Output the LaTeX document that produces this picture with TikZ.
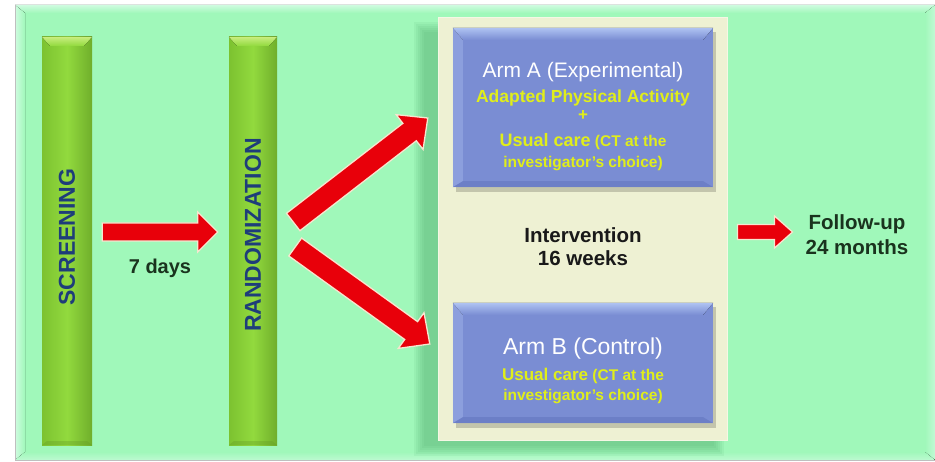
\documentclass[tikz,border=0pt]{standalone}
\usepackage{fontspec}
\setmainfont{Liberation Sans}
\usetikzlibrary{calc}
\definecolor{mint}{HTML}{A0F8BA}
\definecolor{mintlight}{HTML}{CFFBE0}
\definecolor{barmid}{HTML}{92DA3E}
\definecolor{bardark}{HTML}{7CC230}
\definecolor{barlight}{HTML}{C8EE80}
\definecolor{bartext}{HTML}{1E3D7A}
\definecolor{cream}{HTML}{EEF1D3}
\definecolor{armblue}{HTML}{7A8DD3}
\definecolor{armlight}{HTML}{AFC3F2}
\definecolor{armdark}{HTML}{6376C0}
\definecolor{yel}{HTML}{E0EE1A}
\definecolor{arrred}{HTML}{E8000A}
\definecolor{arredge}{HTML}{F6E6CF}
\definecolor{darktxt}{HTML}{1A331E}
\definecolor{shadowgreen}{HTML}{3E9A5C}
\newcommand\blockarrow[5]{%
  \coordinate (bat) at #1;
  \coordinate (bap) at #2;
  \coordinate (bah) at ($(bap)!#5!(bat)$);
  \filldraw[blockarr] ($(bat)!#3!90:(bap)$) -- ($(bah)!#3!90:(bap)$) -- ($(bah)!#4!90:(bap)$) -- (bap)
     -- ($(bah)!#4!-90:(bap)$) -- ($(bah)!#3!-90:(bap)$) -- ($(bat)!#3!-90:(bap)$) -- cycle;}
\begin{document}
\begin{tikzpicture}[x=1pt,y=-1pt,
  bar/.style={rectangle, inner sep=0pt, minimum height=408pt, left color=bardark, right color=bardark!90!black, middle color=barmid},
  bartxt/.style={rotate=90, text=bartext, font=\bfseries\fontsize{23}{23}\selectfont},
  creambox/.style={rectangle, inner sep=0pt, fill=cream, draw=cream!60!white, line width=1pt, minimum width=289pt, minimum height=422pt},
  armbox/.style={rectangle, inner sep=0pt, fill=armblue, minimum width=260pt},
  armtxt/.style={align=center, text=yel, font=\bfseries\fontsize{15.5}{18}\selectfont},
  plaintxt/.style={align=center, text=darktxt, font=\bfseries\fontsize{20.5}{25}\selectfont},
  blockarr/.style={fill=arrred, draw=arredge, line width=1.3pt, line join=miter}]
\useasboundingbox (0,0) rectangle (935,462);
\fill[white] (0,0) rectangle (935,462);
% panel
\fill[mint] (15,5) rectangle (935,460);
\fill[top color=mintlight, bottom color=mint] (15,5) -- (935,5) -- (925,13) -- (25,13) -- cycle;
\fill[left color=mintlight, right color=mint] (15,5) -- (25,13) -- (25,452) -- (15,460) -- cycle;
\fill[left color=mint, right color=mintlight!70!mint] (935,5) -- (925,13) -- (925,452) -- (935,460) -- cycle;
\fill[bottom color=mintlight!60!mint, top color=mint] (15,460) -- (25,452) -- (925,452) -- (935,460) -- cycle;
\draw[black!25, line width=0.8pt] (15,5) -- (15,460) -- (935,460);
% cream box shadow
\foreach \s in {0,2,4,6,8,10}
  \fill[shadowgreen, opacity=0.08] (424-\s,32-\s) rectangle (714+\s,446+\s);
% bars
\node[bar, minimum width=50pt] (scr) at (67,241) {};
\node[bar, minimum width=48pt] (rand) at (253,241) {};
\foreach \b in {scr,rand}{
  \fill[top color=barlight, bottom color=barmid] (\b.north west) -- (\b.north east) -- ([shift={(-8,9)}]\b.north east) -- ([shift={(8,9)}]\b.north west) -- cycle;
  \fill[bardark!80!black, opacity=0.35] (\b.south west) -- (\b.south east) -- ([shift={(-5,-4)}]\b.south east) -- ([shift={(5,-4)}]\b.south west) -- cycle;
}
\node[bartxt] (scrt) at ([yshift=4]scr.center) {SCREENING};
\node[bartxt] (randt) at ([yshift=6]rand.center) {RANDOMIZATION};
% cream box
\node[creambox] (crm) at (582.5,229) {};
% arm boxes with shadows
\fill[black, opacity=0.18] (456,32) rectangle (716,192);
\fill[black, opacity=0.18] (456,307) rectangle (716,428);
\node[armbox, minimum height=159pt] (armA) at (583,107.5) {};
\node[armbox, minimum height=120pt] (armB) at (583,363) {};
\foreach \b in {armA,armB}{
  \fill[top color=armlight, bottom color=armblue] (\b.north west) -- (\b.north east) -- ([shift={(-10,12)}]\b.north east) -- ([shift={(10,12)}]\b.north west) -- cycle;
  \fill[armlight, opacity=0.35] (\b.north west) -- ([shift={(10,12)}]\b.north west) -- ([shift={(10,-6)}]\b.south west) -- (\b.south west) -- cycle;
  \fill[armdark, opacity=0.6] (\b.south west) -- (\b.south east) -- ([shift={(-10,-6)}]\b.south east) -- ([shift={(10,-6)}]\b.south west) -- cycle;
}
\node[armtxt] (aTxt) at (583,117) {{\mdseries\color{white}\fontsize{21}{21}\selectfont Arm A (Experimental)}\\[7pt]
  {\fontsize{17.5}{18}\selectfont Adapted Physical Activity}\\
  {\fontsize{17}{18}\selectfont +}\\[8pt]
  {\fontsize{18}{18}\selectfont Usual care} (CT at the\\[3pt]
  investigator's choice)};
\node[armtxt] (bTxt) at (583,371) {{\mdseries\color{white}\fontsize{23}{23}\selectfont Arm B (Control)}\\[8pt]
  {\fontsize{17}{18}\selectfont Usual care} (CT at the\\[2pt]
  investigator's choice)};
\node[plaintxt, text=black!90, font=\bfseries\fontsize{20.5}{23}\selectfont] (interv) at (583,247) {Intervention\\16 weeks};
\node[plaintxt, inner sep=0pt] (fol) at (857,235) {Follow-up\\24 months};
\node[plaintxt, font=\bfseries\fontsize{20}{20}\selectfont] (days) at (160,268) {7 days};
% arrows
\blockarrow{([shift={(10,-9)}]scr.east)}{([shift={(-11,-9)}]rand.west)}{9pt}{20pt}{20pt}
\blockarrow{([shift={(16,-19)}]rand.east)}{([shift={(-25,10.5)}]armA.west)}{11pt}{22pt}{23pt}
\blockarrow{([shift={(18,6)}]rand.east)}{([shift={(-23,-19)}]armB.west)}{11pt}{22pt}{23pt}
\blockarrow{([shift={(10,3)}]crm.east)}{([shift={(-13,-3)}]fol.west)}{7.5pt}{16pt}{18pt}
\end{tikzpicture}
\end{document}
